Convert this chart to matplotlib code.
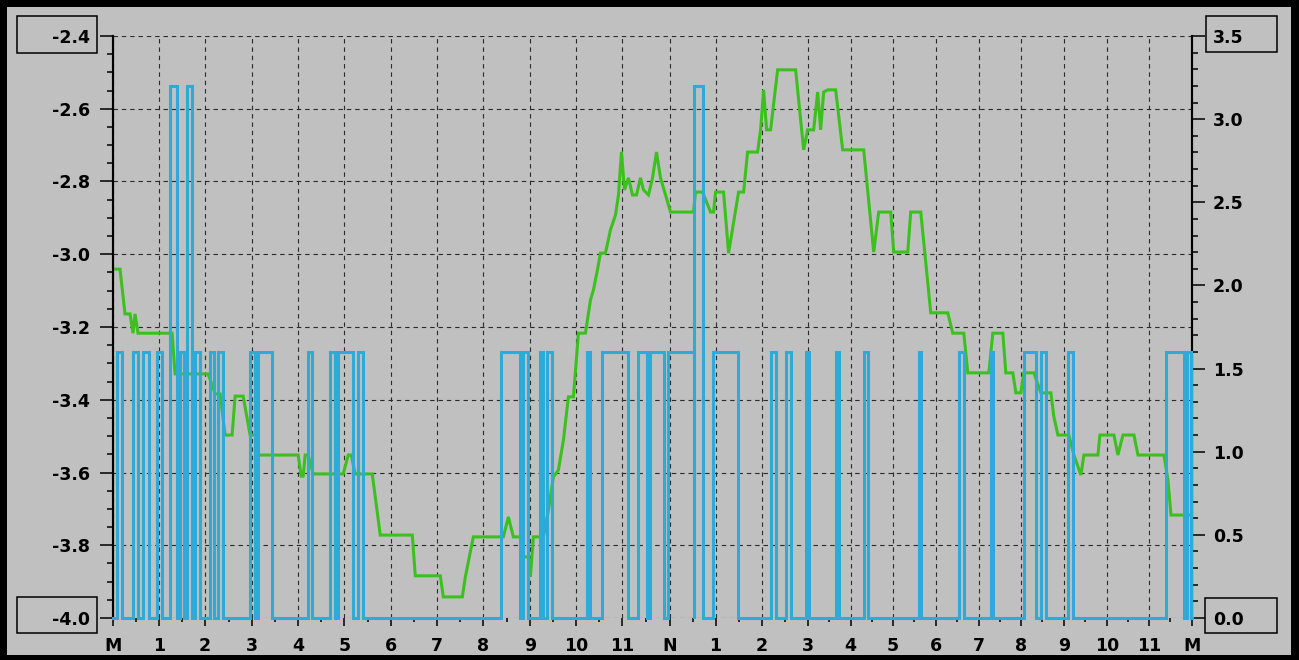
import matplotlib
matplotlib.use("Agg")
import matplotlib.pyplot as plt
from matplotlib.patches import Rectangle
from matplotlib.ticker import FixedLocator

BG = "#c0c0c0"
GREEN = "#3cc01e"
CYAN = "#2eaad8"

# time axis (sample index units), hour labels
tick_pos = [0, 46, 92, 139, 185, 231, 278, 324, 370, 417, 463, 509, 556,
            602, 648, 694, 737, 779, 822, 865, 907, 950, 993, 1035, 1078]
tick_lab = ["M", "1", "2", "3", "4", "5", "6", "7", "8", "9", "10", "11", "N",
            "1", "2", "3", "4", "5", "6", "7", "8", "9", "10", "11", "M"]

left_ticks = [-4.0, -3.8, -3.6, -3.4, -3.2, -3.0, -2.8, -2.6, -2.4]
right_ticks = [0.0, 0.5, 1.0, 1.5, 2.0, 2.5, 3.0, 3.5]

# green series (left axis)
green_x = [0, 7, 12, 17, 20, 22, 25, 59,
           62, 95, 99, 102, 107, 112, 119, 122,
           130, 137, 142, 145, 185, 188, 190, 192,
           195, 200, 230, 235, 238, 242, 259, 267,
           299, 302, 327, 330, 349, 352, 360, 390,
           395, 400, 407, 410, 415, 417, 420, 430,
           435, 440, 445, 450, 455, 460, 465, 472,
           477, 480, 484, 487, 492, 497, 502, 505,
           508, 511, 515, 519, 523, 527, 530, 535,
           539, 543, 547, 552, 557, 567, 580, 582,
           589, 597, 600, 602, 610, 615, 625, 630,
           634, 644, 647, 650, 653, 657, 664, 682,
           690, 694, 700, 704, 707, 710, 714, 722,
           729, 750, 760, 765, 777, 780, 794, 797,
           807, 817, 834, 839, 850, 854, 875, 879,
           889, 892, 899, 902, 907, 910, 920, 927,
           937, 940, 944, 955, 960, 967, 970, 984,
           986, 1000, 1004, 1009, 1020, 1024, 1050, 1054,
           1057, 1078]
green_y = [-3.041, -3.041, -3.164, -3.164, -3.217, -3.164, -3.217, -3.217,
           -3.329, -3.329, -3.359, -3.384, -3.384, -3.497, -3.497, -3.390,
           -3.390, -3.497, -3.497, -3.552, -3.552, -3.610, -3.610, -3.552,
           -3.552, -3.604, -3.604, -3.552, -3.552, -3.604, -3.604, -3.772,
           -3.772, -3.884, -3.884, -3.942, -3.942, -3.887, -3.777, -3.777,
           -3.722, -3.777, -3.777, -3.832, -3.832, -3.887, -3.777, -3.777,
           -3.703, -3.612, -3.593, -3.511, -3.392, -3.392, -3.217, -3.217,
           -3.126, -3.098, -3.043, -2.997, -2.997, -2.933, -2.892, -2.837,
           -2.719, -2.823, -2.790, -2.837, -2.837, -2.790, -2.823, -2.837,
           -2.790, -2.719, -2.790, -2.837, -2.884, -2.884, -2.884, -2.829,
           -2.829, -2.884, -2.884, -2.829, -2.829, -2.997, -2.829, -2.829,
           -2.719, -2.719, -2.658, -2.548, -2.658, -2.658, -2.493, -2.493,
           -2.713, -2.658, -2.658, -2.554, -2.658, -2.554, -2.548, -2.548,
           -2.713, -2.713, -2.994, -2.884, -2.884, -2.994, -2.994, -2.884,
           -2.884, -3.161, -3.161, -3.217, -3.217, -3.326, -3.326, -3.217,
           -3.217, -3.326, -3.326, -3.381, -3.381, -3.326, -3.326, -3.381,
           -3.381, -3.447, -3.497, -3.497, -3.552, -3.607, -3.552, -3.552,
           -3.497, -3.497, -3.552, -3.497, -3.497, -3.552, -3.552, -3.621,
           -3.717, -3.717]

# cyan pulses (right axis): start, end, level
cyan_on = [4, 20, 30, 44, 57, 67, 74, 82, 97, 105,
           137, 145, 195, 217, 225, 245, 388, 410, 427, 434,
           474, 489, 525, 537, 554, 580, 599, 657, 672, 692,
           722, 750, 805, 845, 877, 910, 927, 954, 1052, 1073]
cyan_off = [9, 25, 36, 49, 64, 71, 79, 87, 101, 110,
            142, 159, 199, 222, 240, 250, 407, 415, 430, 439,
            477, 515, 534, 550, 580, 589, 624, 662, 677, 695,
            725, 754, 807, 850, 879, 922, 932, 959, 1070, 1077]
cyan_lvl = [1.6, 1.6, 1.6, 1.6, 3.2, 1.6, 3.2, 1.6, 1.6, 1.6,
            1.6, 1.6, 1.6, 1.6, 1.6, 1.6, 1.6, 1.6, 1.6, 1.6,
            1.6, 1.6, 1.6, 1.6, 1.6, 3.2, 1.6, 1.6, 1.6, 1.6,
            1.6, 1.6, 1.6, 1.6, 1.6, 1.6, 1.6, 1.6, 1.6, 1.6]

cx, cy = [0], [0.0]
for a, b, h in zip(cyan_on, cyan_off, cyan_lvl):
    cx += [a, a, b, b]
    cy += [0.0, h, h, 0.0]
cx.append(tick_pos[-1])
cy.append(0.0)

W, H = 1299, 660
fig = plt.figure(figsize=(W / 100, H / 100), dpi=100, facecolor=BG)
ax = fig.add_axes([113 / W, (H - 618) / H, (1192 - 113) / W, (618 - 36) / H])
ax.set_facecolor(BG)
ax2 = ax.twinx()

font = dict(family="DejaVu Sans", weight="bold", size=12.5)

ax.plot(green_x, green_y, color=GREEN, lw=2.2, solid_joinstyle="miter", zorder=3)
ax2.plot(cx, cy, color=CYAN, lw=2.2, solid_joinstyle="miter", clip_on=False, zorder=3)

ax.set_xlim(tick_pos[0], tick_pos[-1])
ax.set_ylim(-4.0, -2.4)
ax2.set_ylim(0.0, 3.5)

ax.set_xticks(tick_pos)
ax.set_xticklabels(tick_lab, fontdict=font)
mids = [(tick_pos[i] + tick_pos[i + 1]) / 2 for i in range(len(tick_pos) - 1)]
ax.xaxis.set_minor_locator(FixedLocator(mids))
ax.set_yticks(left_ticks)
ax.set_yticklabels([f"{v:.1f}" for v in left_ticks], fontdict=font)
ax.yaxis.set_minor_locator(FixedLocator([v / 100 for v in range(-400, -239, 5)]))
ax2.set_yticks(right_ticks)
ax2.set_yticklabels([f"{v:.1f}" for v in right_ticks], fontdict=font)
ax2.yaxis.set_minor_locator(FixedLocator([v / 10 for v in range(0, 36)]))

ax.tick_params(axis="y", which="major", length=9.5, width=1.1, pad=7, colors="black")
ax.tick_params(axis="y", which="minor", length=4.5, width=1.1)
ax.tick_params(axis="x", which="major", length=6, width=1.1, pad=8, direction="out")
ax.tick_params(axis="x", which="minor", length=3, width=1.1, direction="out")
ax2.tick_params(axis="y", which="major", length=9, width=1.1, pad=6)
ax2.tick_params(axis="y", which="minor", length=4.5, width=1.1)

for a in (ax, ax2):
    a.spines["top"].set_visible(False)
    a.spines["bottom"].set_visible(False)
    a.spines["left"].set_linewidth(1.5)
    a.spines["right"].set_linewidth(1.5)

ax.grid(True, which="major", color="#2a2a2a", lw=0.8, linestyle=(0, (4, 3.5)))
ax.set_axisbelow(True)

# value boxes at the axis ends
for x0, y0, x1, y1 in [(17, 16, 97, 53), (17, 597, 97, 633),
                       (1206, 16, 1277, 52), (1205, 598, 1277, 633)]:
    fig.add_artist(Rectangle((x0 / W, (H - y1) / H), (x1 - x0) / W, (y1 - y0) / H,
                             transform=fig.transFigure, fill=False,
                             edgecolor="black", lw=1.1))

# outer black frame
for x0, y0, w, h in [(0, 0, 7, H), (0, 0, W, 7), (1291, 0, 8, H), (0, 655, W, 5)]:
    fig.add_artist(Rectangle((x0 / W, (H - y0 - h) / H), w / W, h / H,
                             transform=fig.transFigure, color="black", lw=0))

fig.savefig("out.png", dpi=100, facecolor=BG)
